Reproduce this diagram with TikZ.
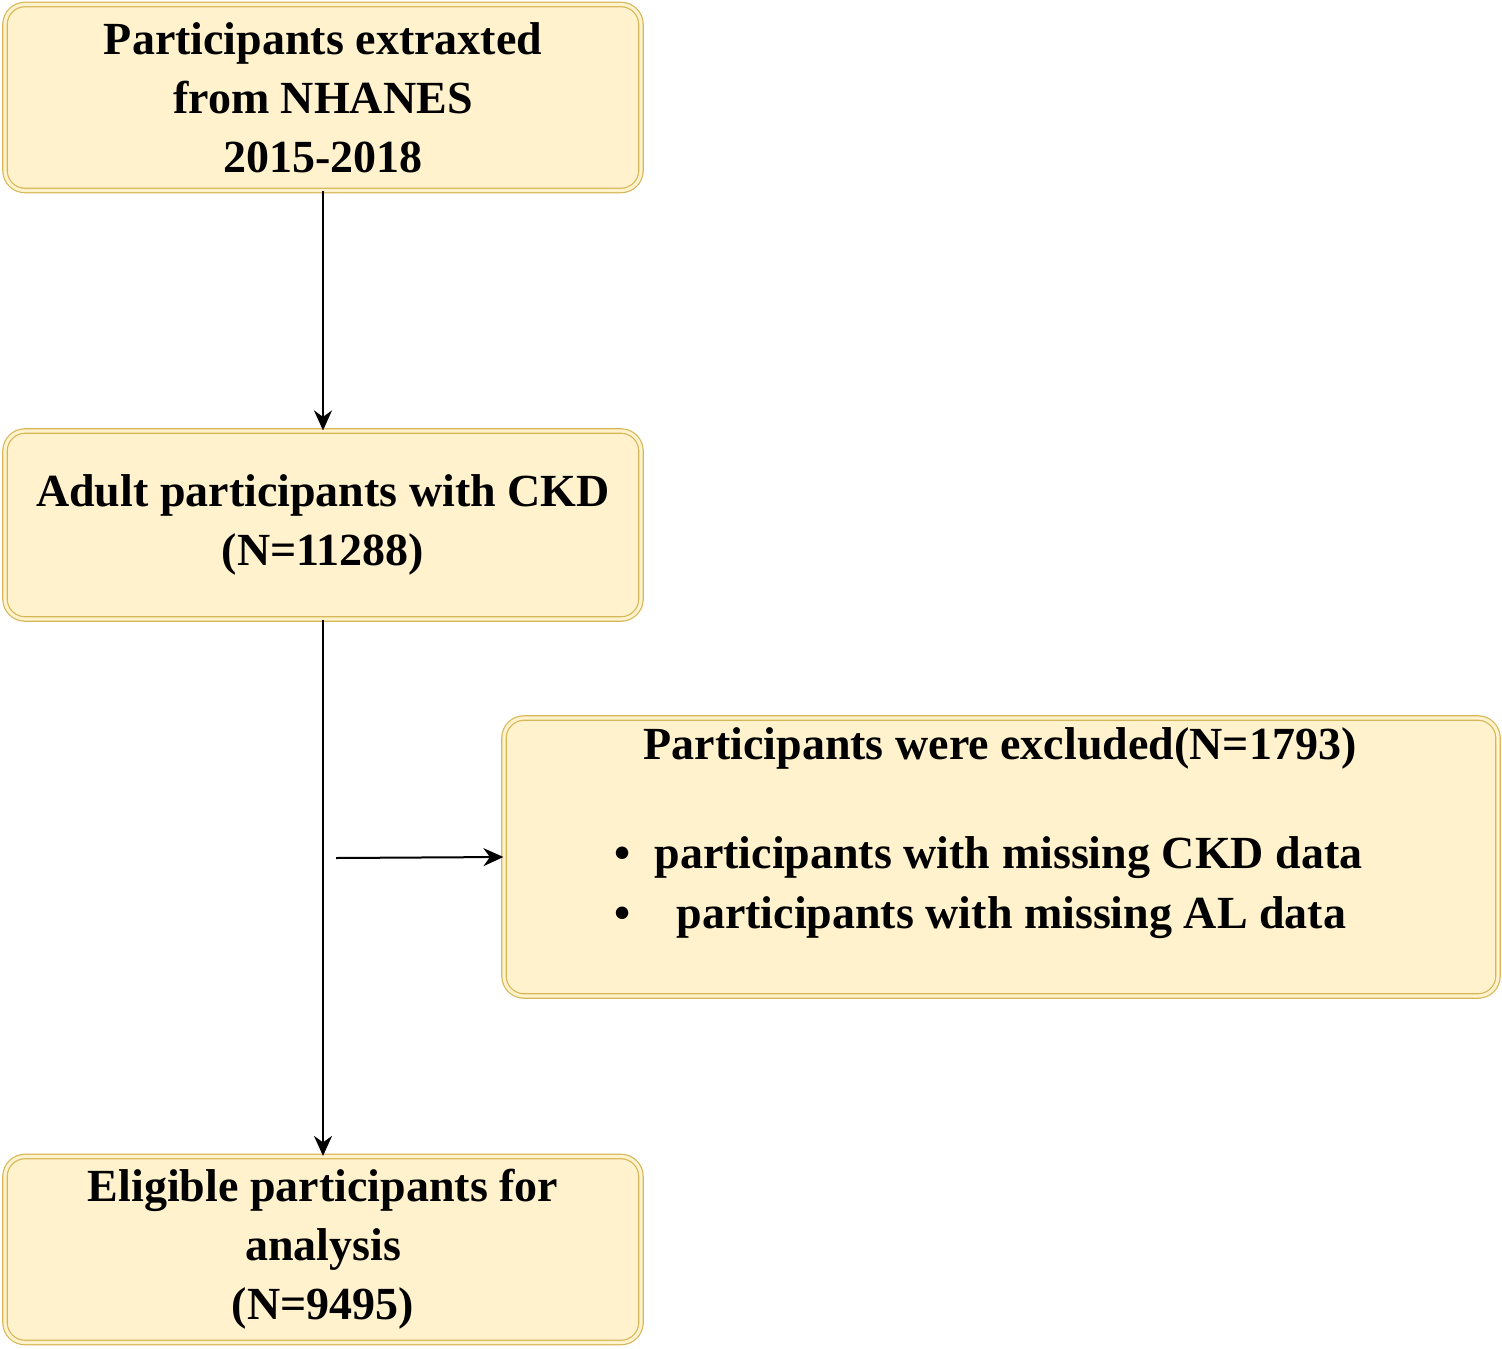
\documentclass[tikz,border=0pt]{standalone}
\usepackage{fontspec}
\setmainfont{Liberation Serif}
\usepackage{tikz}
\usetikzlibrary{positioning}
\usetikzlibrary{arrows.meta}
\definecolor{boxfill}{HTML}{FFF2CC}
\definecolor{boxline}{HTML}{D6B656}

\begin{document}
\begin{tikzpicture}[x=0.5pt,y=-0.5pt,font=\bfseries\fontsize{23}{29.5}\selectfont,
      box style/.style={rectangle,rounded corners=10pt,draw=boxline,line width=0.6pt,
        double=boxfill,double distance=1.6pt,fill=boxfill,align=center,
        minimum width=318pt,inner sep=0pt},
      text style/.style={align=center,inner sep=0pt}
      ]
      \useasboundingbox (0,0) rectangle (1502,1348);

      \node[box style, minimum height=93pt] (nhanes) at (323,97.5)
        {Participants extraxted\\from NHANES\\2015-2018};
      \node[box style, minimum height=94pt] (ckd) at (323,525)
        {Adult participants with CKD\\(N=11288)};
      \node[box style, minimum width=497pt, minimum height=139pt] (excl) at (1001,857) {};
      \node[box style, minimum height=93pt] (elig) at (323,1249.5)
        {Eligible participants for\\analysis\\(N=9495)};

      \node[text style] (excltitle) at (1000,748) {Participants were excluded(N=1793)};
      \node[text style, anchor=west] (bulla) at (614,858) {\textbullet\hspace{12pt}participants with missing CKD data};
      \node[text style, anchor=west] (bullb) at (614,918) {\textbullet\hspace{23pt}participants with missing AL data};

      \coordinate (split) at (336,858);

      \draw[-{Stealth[length=10pt,width=9pt]},line width=1pt] (nhanes) -- (ckd);
      \draw[-{Stealth[length=10pt,width=9pt]},line width=1pt] (ckd) -- (elig);
      \draw[-{Stealth[length=10pt,width=9pt]},line width=1pt] (split) -- (excl.west);

    \end{tikzpicture}
\end{document}
